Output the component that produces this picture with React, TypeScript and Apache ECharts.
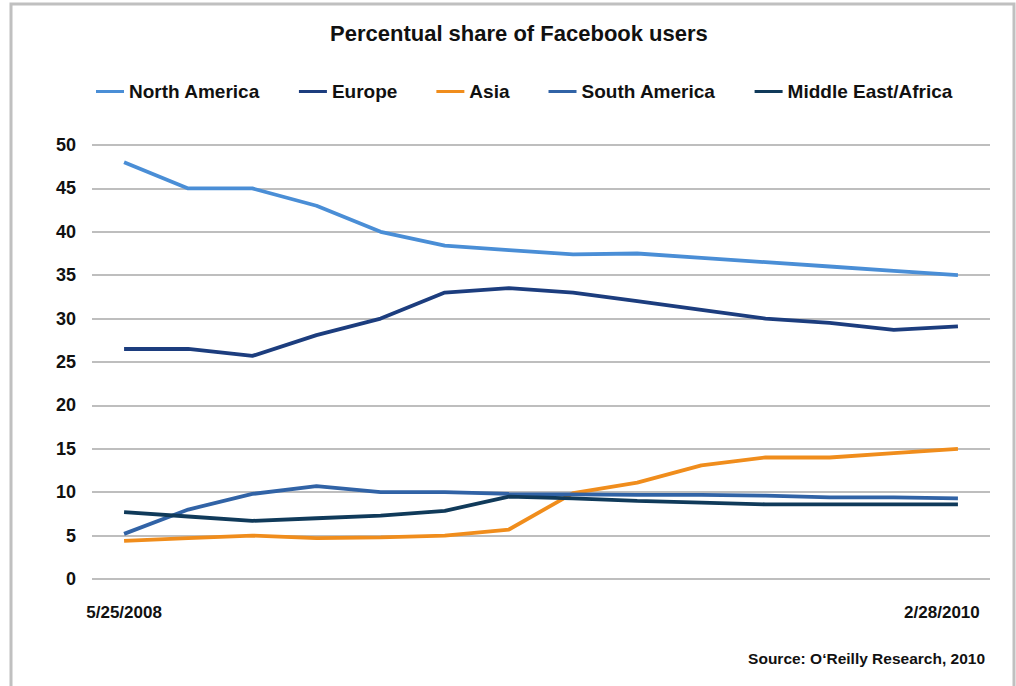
import React, { useEffect, useRef } from "react";
import * as echarts from "echarts";

const dates = ["5/25/2008", "", "", "", "", "", "", "", "", "", "", "", "", "2/28/2010"];
const northAmerica = [48.0, 45.0, 45.0, 43.0, 40.0, 38.4, 37.9, 37.4, 37.5, 37.0, 36.5, 36.0, 35.5, 35.0];
const europe = [26.5, 26.5, 25.7, 28.1, 30.0, 33.0, 33.5, 33.0, 32.0, 31.0, 30.0, 29.5, 28.7, 29.1];
const asia = [4.4, 4.7, 5.0, 4.7, 4.8, 5.0, 5.7, 9.9, 11.1, 13.1, 14.0, 14.0, 14.5, 15.0];
const southAmerica = [5.2, 8.0, 9.8, 10.7, 10.0, 10.0, 9.8, 9.75, 9.7, 9.7, 9.6, 9.4, 9.4, 9.3];
const middleEastAfrica = [7.7, 7.2, 6.7, 7.0, 7.3, 7.85, 9.5, 9.3, 9.0, 8.8, 8.6, 8.6, 8.6, 8.6];
const yTicks = [0, 5, 10, 15, 20, 25, 30, 35, 40, 45, 50];

const seriesDefs = [
  { name: "North America", data: northAmerica, color: "#4a8ed6" },
  { name: "Europe", data: europe, color: "#1c3d7e" },
  { name: "Asia", data: asia, color: "#f08d1c" },
  { name: "South America", data: southAmerica, color: "#3163a6" },
  { name: "Middle East/Africa", data: middleEastAfrica, color: "#103a5a" },
];

const FONT = "'Liberation Sans', Arial, sans-serif";

export default function App() {
  const ref = useRef<HTMLDivElement>(null);
  useEffect(() => {
    if (!ref.current) return;
    const chart = echarts.init(ref.current, undefined, { renderer: "svg" });
    const last = dates.length - 1;
    chart.setOption({
      animation: false,
      backgroundColor: "#ffffff",
      title: {
        text: "Percentual share of Facebook users",
        left: 325,
        top: 17,
        textStyle: { fontFamily: FONT, fontSize: 22, fontWeight: "bold", color: "#111" },
      },
      legend: {
        top: 77,
        left: 91,
        icon: "rect",
        itemWidth: 28,
        itemHeight: 3,
        itemGap: 39,
        textStyle: { fontFamily: FONT, fontSize: 19, fontWeight: "bold", color: "#111" },
        data: seriesDefs.map((s) => s.name),
      },
      grid: { left: 92, right: 26, top: 145, bottom: 107, containLabel: false },
      xAxis: {
        type: "category",
        data: dates,
        boundaryGap: true,
        axisLine: { show: false },
        axisTick: { show: false },
        axisLabel: {
          interval: (i: number) => i === 0 || i === last,
          margin: 25,
          fontFamily: FONT,
          fontSize: 17,
          fontWeight: "bold",
          color: "#111",
          formatter: (v: string, i: number) => (i === last ? "{r|" + v + "}" : v),
          rich: {
            r: { padding: [0, 32, 0, 0], fontFamily: FONT, fontSize: 17, fontWeight: "bold", color: "#111" },
          },
        },
      },
      yAxis: {
        type: "value",
        min: yTicks[0],
        max: yTicks[yTicks.length - 1],
        interval: 5,
        axisLine: { show: false },
        axisTick: { show: false },
        axisLabel: { margin: 16, fontFamily: FONT, fontSize: 18, fontWeight: "bold", color: "#111" },
        splitLine: { lineStyle: { color: "#a8a8a8", width: 1.5 } },
      },
      series: seriesDefs.map((s) => ({
        name: s.name,
        type: "line",
        data: s.data,
        symbol: "none",
        color: s.color,
        lineStyle: { color: s.color, width: 3.8 },
      })),
      graphic: [
        {
          type: "rect",
          shape: { x: 11, y: 4, width: 1003, height: 720 },
          style: { fill: "none", stroke: "#c0c0c0", lineWidth: 3 },
          silent: true,
        },
        {
          type: "text",
          right: 31,
          top: 650,
          style: {
            text: "Source: O\u2018Reilly Research, 2010",
            fontFamily: FONT,
            fontSize: 15.5,
            fontWeight: "bold",
            fill: "#111",
          },
        },
      ],
    });
    return () => chart.dispose();
  }, []);
  return <div ref={ref} style={{ position: "fixed", left: 0, top: 0, width: 1016, height: 686 }} />;
}
